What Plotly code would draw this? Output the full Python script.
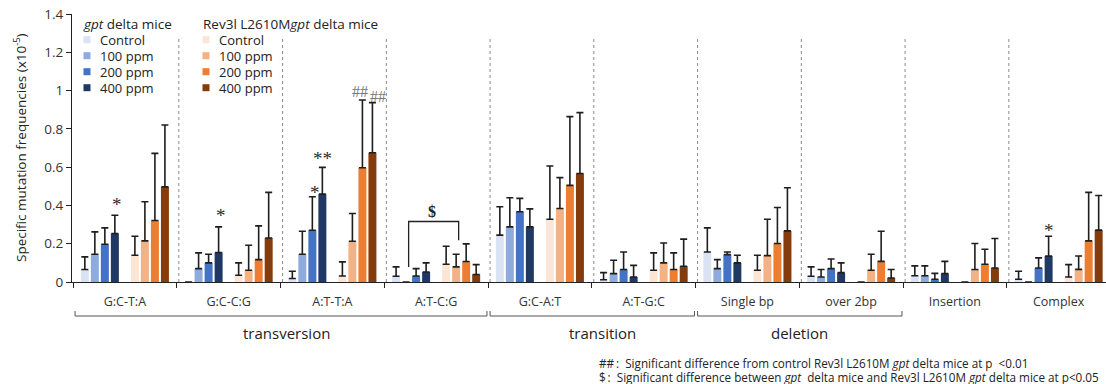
import plotly.graph_objects as go

# ---------------- data ----------------
categories = ["G:C-T:A", "G:C-C:G", "A:T-T:A", "A:T-C:G", "G:C-A:T",
              "A:T-G:C", "Single bp", "over 2bp", "Insertion", "Complex"]
dose_labels = ["Control", "100 ppm", "200 ppm", "400 ppm"]
strain_labels = ["<i>gpt</i> delta mice", "Rev3l L2610M<i>gpt</i> delta mice"]

# gpt delta mice (mean, SD)
gpt_control = [0.065, 0.000, 0.018, 0.030, 0.245, 0.012, 0.157, 0.030, 0.033, 0.014]
gpt_control_sd = [0.066, 0.000, 0.038, 0.049, 0.148, 0.037, 0.126, 0.049, 0.051, 0.042]
gpt_100 = [0.145, 0.070, 0.145, 0.000, 0.288, 0.044, 0.070, 0.026, 0.033, 0.000]
gpt_100_sd = [0.117, 0.082, 0.120, 0.000, 0.152, 0.070, 0.047, 0.039, 0.051, 0.000]
gpt_200 = [0.197, 0.100, 0.270, 0.031, 0.367, 0.065, 0.143, 0.070, 0.014, 0.073]
gpt_200_sd = [0.086, 0.045, 0.175, 0.039, 0.070, 0.092, 0.014, 0.050, 0.031, 0.053]
gpt_400 = [0.253, 0.154, 0.459, 0.052, 0.288, 0.026, 0.100, 0.049, 0.044, 0.135]
gpt_400_sd = [0.096, 0.134, 0.140, 0.048, 0.094, 0.061, 0.040, 0.051, 0.064, 0.104]

# Rev3l L2610M gpt delta mice (mean, SD)
rev_control = [0.140, 0.035, 0.031, 0.093, 0.328, 0.061, 0.061, 0.000, 0.000, 0.026]
rev_control_sd = [0.099, 0.065, 0.074, 0.094, 0.278, 0.091, 0.079, 0.000, 0.000, 0.065]
rev_100 = [0.215, 0.061, 0.213, 0.079, 0.384, 0.100, 0.138, 0.061, 0.065, 0.066]
rev_100_sd = [0.204, 0.131, 0.145, 0.066, 0.161, 0.104, 0.190, 0.084, 0.136, 0.070]
rev_200 = [0.321, 0.117, 0.597, 0.107, 0.505, 0.065, 0.201, 0.108, 0.093, 0.215]
rev_200_sd = [0.351, 0.176, 0.354, 0.092, 0.359, 0.087, 0.188, 0.157, 0.078, 0.253]
rev_400 = [0.497, 0.230, 0.675, 0.039, 0.567, 0.082, 0.267, 0.021, 0.073, 0.271]
rev_400_sd = [0.323, 0.238, 0.262, 0.052, 0.318, 0.142, 0.225, 0.044, 0.154, 0.181]

# (label, first category, last category, label x shift)
groups = [("transversion", 0, 3, 0.06), ("transition", 4, 5, 0.10), ("deletion", 6, 7, 0.0)]

# significance marks: (category index, series index 0-7, text, gap above error bar, x shift)
sig_marks = [
    (0, 3, "*", 0.055, 0.02),
    (1, 3, "*", 0.062, 0.02),
    (2, 2, "*", 0.025, 0.03),
    (2, 3, "**", 0.045, 0.0),
    (9, 3, "*", 0.030, 0.0),
]
hash_marks = [(2, 6, "##", 0.045, -0.02), (2, 7, "##", 0.030, 0.05)]

footnotes = [
    "##\u2009:  Significant difference from control Rev3l L2610M <i>gpt</i> delta mice at p  &lt;0.01",
    "$\u2009:  Significant difference between <i>gpt</i>  delta mice and Rev3l L2610M <i>gpt</i> delta mice at p&lt;0.05",
]

blue_colors = ["#dae3f3", "#8faadc", "#4472c4", "#203864"]
orange_colors = ["#fbe5d6", "#f4b183", "#ed7d31", "#843c0c"]

# ---------------- layout geometry ----------------
W, H = 1106, 384
L, R, T, B = 72, 0, 14, 102
PW, PH = W - L - R, H - T - B
CAT_PX = 103.75
x0 = -0.5 - 1.0 / CAT_PX
x_range = [x0, x0 + PW / CAT_PX]


def px_x(px):
    return (px - L) / PW


def px_y(py):
    return (T + PH - py) / PH


FONT = "Open Sans, Noto Sans, sans-serif"
slot = 0.0965
offsets = [-4 * slot, -3 * slot, -2 * slot, -1 * slot, 1 * slot, 2 * slot, 3 * slot, 4 * slot]
bar_w = 0.077

series = [
    (gpt_control, gpt_control_sd), (gpt_100, gpt_100_sd), (gpt_200, gpt_200_sd), (gpt_400, gpt_400_sd),
    (rev_control, rev_control_sd), (rev_100, rev_100_sd), (rev_200, rev_200_sd), (rev_400, rev_400_sd),
]
colors = blue_colors + orange_colors
names = dose_labels + dose_labels

fig = go.Figure()
for k, (vals, sd) in enumerate(series):
    fig.add_trace(go.Bar(
        x=[i + offsets[k] for i in range(len(categories))],
        y=vals,
        width=bar_w,
        marker=dict(color=colors[k], line=dict(width=0)),
        error_y=dict(type="data", symmetric=False, array=sd, arrayminus=[0] * len(sd),
                     color="#1e1e1e", thickness=1.6, width=3.5),
        showlegend=False,
        name=("gpt delta " if k < 4 else "Rev3l L2610M gpt delta ") + names[k],
    ))

shapes = []
annotations = []

# legend (two columns: strain title + four dose entries)
leg_title_x = [81, 201]
leg_mark_x = [87, 206]
leg_text_x = [98, 217]
for c in range(2):
    annotations.append(dict(x=px_x(leg_title_x[c]), xref="paper", y=px_y(24), yref="paper",
                            text=strain_labels[c], showarrow=False, xanchor="left", yanchor="middle",
                            font=dict(family=FONT, size=13.5, color="#222")))
    for i, lab in enumerate(dose_labels):
        yy = 39.7 + 16 * i
        shapes.append(dict(type="rect", xref="paper", yref="paper",
                           x0=px_x(leg_mark_x[c] - 3.5), x1=px_x(leg_mark_x[c] + 3.5),
                           y0=px_y(yy + 3.5), y1=px_y(yy - 3.5),
                           fillcolor=colors[4 * c + i], line=dict(width=0)))
        annotations.append(dict(x=px_x(leg_text_x[c]), xref="paper", y=px_y(yy), yref="paper",
                                text=lab, showarrow=False, xanchor="left", yanchor="middle",
                                font=dict(family=FONT, size=13, color="#222")))

# dashed separators
for b in range(1, len(categories)):
    shapes.append(dict(type="line", xref="x", yref="y", x0=b - 0.5 + 0.02, x1=b - 0.5 + 0.02,
                       y0=0, y1=1.27, line=dict(color="#8a8a8a", width=1, dash="dot"), layer="below"))
# group brackets
yb = px_y(316)
ye = px_y(311)
for name, a, bnd, dx in groups:
    xa = a - 0.5 + 0.02
    xb = bnd + 0.5 - 0.01
    shapes.append(dict(type="path", xref="x", yref="paper",
                       path=f"M {xa},{ye} L {xa},{yb} L {xb},{yb} L {xb},{ye}",
                       line=dict(color="#555555", width=1)))
    annotations.append(dict(x=(a + bnd) / 2 + dx, xref="x", y=px_y(333), yref="paper", text=name,
                            showarrow=False, font=dict(family=FONT, size=15, color="#222"),
                            xanchor="center", yanchor="middle"))
# $ bracket in A:T-C:G
shapes.append(dict(type="path", xref="x", yref="y",
                   path=f"M {3 - 0.265},{0.078} L {3 - 0.265},{0.316} L {3 + 0.217},{0.316} L {3 + 0.217},{0.218}",
                   line=dict(color="#222222", width=1.3)))

for cat, s, txt, gap, dx in sig_marks:
    vals, sd = series[s]
    annotations.append(dict(x=cat + offsets[s] + dx, xref="x", y=vals[cat] + sd[cat] + gap, yref="y",
                            text=txt, showarrow=False, yanchor="middle",
                            font=dict(family="Liberation Serif, serif", size=19, color="#2a2a2a")))
for cat, s, txt, gap, dx in hash_marks:
    vals, sd = series[s]
    annotations.append(dict(x=cat + offsets[s] + dx, xref="x", y=vals[cat] + sd[cat] + gap, yref="y",
                            text=txt, showarrow=False, yanchor="middle",
                            font=dict(family="Liberation Serif, serif", size=16, color="#777")))
annotations.append(dict(x=3 - 0.035, xref="x", y=0.37, yref="y", text="<b>$</b>", showarrow=False,
                        yanchor="middle", font=dict(family="Liberation Serif, serif", size=16, color="#222")))
for j, t in enumerate(footnotes):
    annotations.append(dict(x=px_x(597), xref="paper", y=px_y(362.5 + 14 * j), yref="paper", text=t,
                            showarrow=False, xanchor="left", yanchor="middle",
                            font=dict(family=FONT, size=11.7, color="#222")))
# y-axis title
annotations.append(dict(x=px_x(20), xref="paper", y=0.5, yref="paper",
                        text="Specific mutation frequencies (x10<sup>-5</sup>)", textangle=-90,
                        showarrow=False, xanchor="center", yanchor="middle",
                        font=dict(family=FONT, size=13.5, color="#222")))

fig.update_layout(
    width=W, height=H,
    margin=dict(l=L, r=R, t=T, b=B, autoexpand=False),
    paper_bgcolor="white", plot_bgcolor="white",
    barmode="overlay", showlegend=False,
    font=dict(family=FONT, color="#222"),
    shapes=shapes,
    annotations=annotations,
)

fig.update_xaxes(
    range=x_range,
    tickvals=list(range(len(categories))), ticktext=categories,
    ticks="", showgrid=False, zeroline=False,
    showline=True, linecolor="#222", linewidth=1.2,
    tickfont=dict(family=FONT, size=12.5, color="#333"),
    ticklabelstandoff=8,
    minor=dict(tickvals=[b - 0.5 for b in range(len(categories) + 1)], ticks="outside",
               ticklen=5, tickcolor="#222", tickwidth=1, showgrid=False),
)
fig.update_yaxes(
    range=[0, 1.4], tickvals=[0, 0.2, 0.4, 0.6, 0.8, 1.0, 1.2, 1.4],
    ticktext=["0", "0.2", "0.4", "0.6", "0.8", "1", "1.2", "1.4"],
    ticks="outside", ticklen=5, tickcolor="#222",
    showgrid=False, zeroline=False, showline=True, linecolor="#222", linewidth=1.2,
    tickfont=dict(family=FONT, size=13.5, color="#333"),
)

fig.write_html("out.html", config={"displayModeBar": False},
               post_script="document.body.style.margin='0';")
